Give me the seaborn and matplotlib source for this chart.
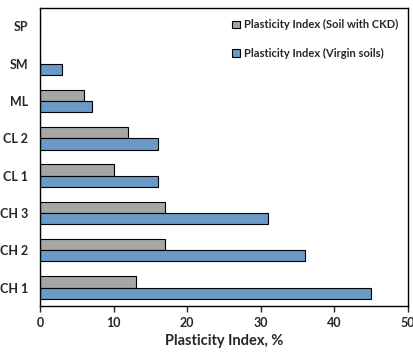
import seaborn as sns
import matplotlib.pyplot as plt
import pandas as pd

soils = ["SP", "SM", "ML", "CL 2", "CL 1", "CH 3", "CH 2", "CH 1"]
pi_ckd = [0, 0, 6, 12, 10, 17, 17, 13]
pi_virgin = [0, 3, 7, 16, 16, 31, 36, 45]
series = ["Plasticity Index (Soil with CKD)", "Plasticity Index (Virgin soils)"]
colors = ["#A6A6A6", "#5B9BD5"]

sns.set_style("white")
plt.rcParams.update(
    {
        "font.family": ["Lato", "DejaVu Sans"],
        "font.weight": "bold",
        "font.size": 9,
    }
)

df = pd.DataFrame(
    {
        "soil": soils * 2,
        "pi": pi_ckd + pi_virgin,
        "series": [series[0]] * len(soils) + [series[1]] * len(soils),
    }
)

fig = plt.figure(figsize=(4.14, 3.56), dpi=100)
ax = fig.add_axes([0.097, 0.140, 0.888, 0.838])
sns.barplot(
    ax=ax,
    data=df,
    x="pi",
    y="soil",
    hue="series",
    order=soils,
    hue_order=series,
    palette=colors,
    width=0.6,
    edgecolor="black",
    linewidth=0.8,
    errorbar=None,
)

ax.set_xlim(0, 50)
ax.set_xticks(range(0, 51, 10))
ax.set_xlabel("Plasticity Index, %", fontsize=10.5, fontweight="bold")
ax.set_ylabel("")
ax.tick_params(axis="x", bottom=True, length=4, width=1, labelsize=9)
ax.tick_params(axis="y", left=False, labelsize=9, pad=5)
for lab in ax.get_xticklabels() + ax.get_yticklabels():
    lab.set_fontweight("bold")
for s in ax.spines.values():
    s.set_color("black")
    s.set_linewidth(1)

ax.legend_.remove()
ax.legend(
    loc="upper right",
    bbox_to_anchor=(1.0, 0.995),
    frameon=False,
    fontsize=8,
    handlelength=0.7,
    handleheight=0.7,
    handletextpad=0.3,
    labelspacing=1.6,
)

fig.savefig("out.png", dpi=100)
